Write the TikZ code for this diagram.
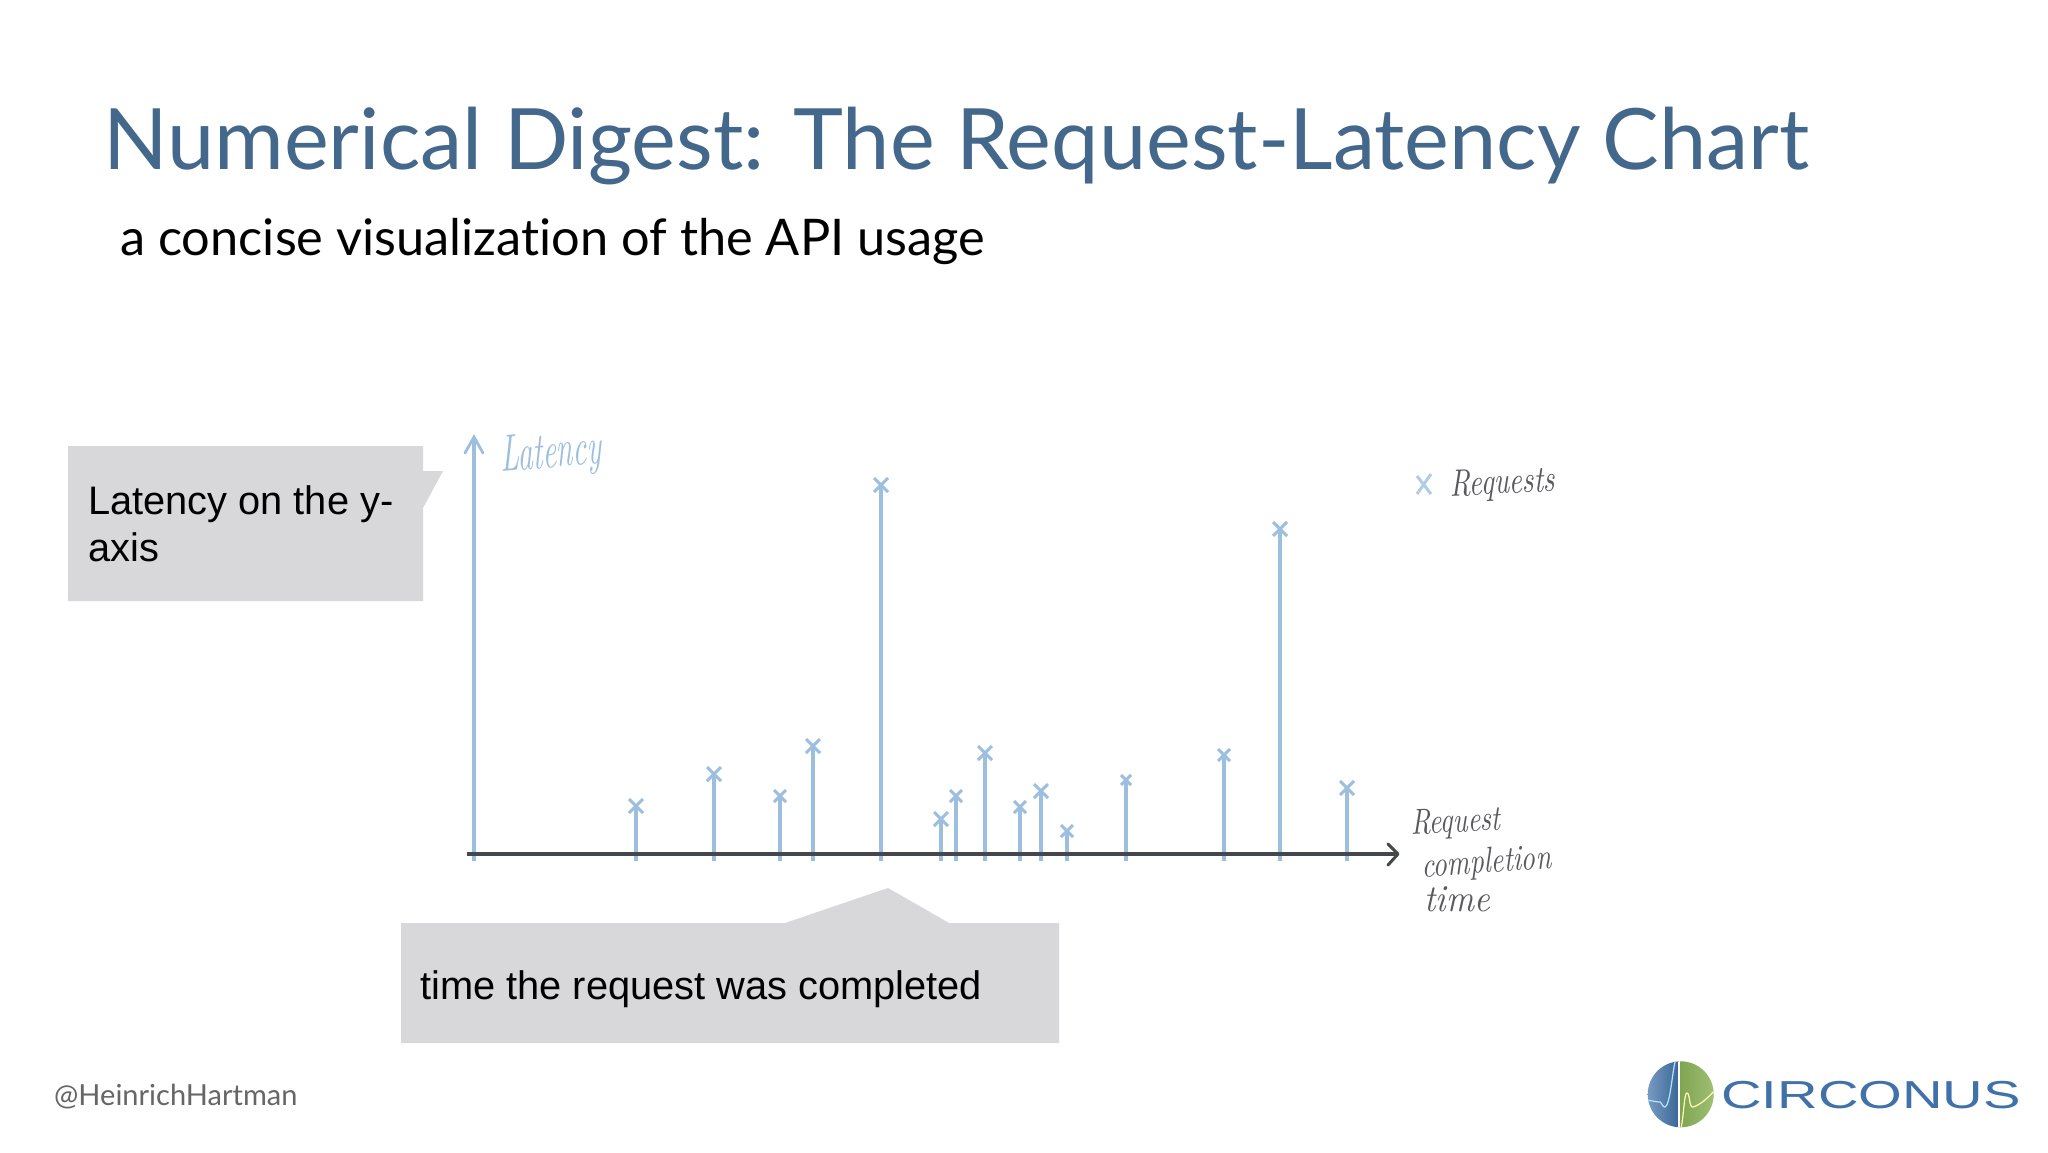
\documentclass[tikz,border=0pt]{standalone}
\usepackage{fontspec}
\setmainfont{Lato}[Ligatures=NoCommon]
\newfontfamily\arialf{Liberation Sans}
\newfontfamily\handf{lmroman10-italic.otf}
\usetikzlibrary{arrows.meta}
\definecolor{titleblue}{HTML}{44688C}
\definecolor{stemblue}{HTML}{9DBFDF}
\definecolor{calloutgray}{HTML}{D8D7DA}
\definecolor{axisdark}{HTML}{44474C}
\definecolor{logoblue}{HTML}{4071A8}
\definecolor{logogreen}{HTML}{8DB65A}
\definecolor{handgray}{HTML}{5A5A5E}
\newcommand{\px}[1]{\fontsize{#1}{#1}\selectfont}
\tikzset{
 x=1pt,y=-1pt,
 stem/.style={draw=stemblue,line width=3.6pt},
 crossmark/.style={draw=stemblue,line width=3pt},
 callout/.style={fill=calloutgray,draw=none},
 calltext/.style={anchor=base west,inner sep=0pt,font=\arialf\px{39.8},text=black},
 hand/.style={anchor=base west,inner sep=0pt,font=\handf\px{38},text=handgray},
}
\begin{document}
\begin{tikzpicture}
\useasboundingbox (0,0) rectangle (2048,1152);
\fill[white] (0,0) rectangle (2048,1152);
\node[anchor=base west,inner sep=0pt,text=titleblue,font=\px{84.7}] (title) at (103,169) {Numerical Digest: The Request-Latency Chart};
\node[anchor=base west,inner sep=0pt,text=black,font=\px{50.5}] (sub) at (120,255) {a concise visualization of the API usage};
% callouts
\path[callout] (68,446) -- (423,446) -- (423,471) -- (443,471) -- (423,508) -- (423,601) -- (68,601) -- cycle;
\path[callout] (401,923) -- (785,923) -- (888,888) -- (949,923) -- (1059,923) -- (1059,1043) -- (401,1043) -- cycle;
\node[calltext] (c1a) at (88,514) {Latency on the y-};
\node[calltext] (c1b) at (88,561) {axis};
\node[calltext] (c2) at (420,999) {time the request was completed};
% stems
\coordinate (ybot) at (474,861);
\coordinate (ytop) at (474,437);
\draw[stem] (ybot) -- (ytop);
\draw[stem,line cap=round,line width=2.8pt] (465,453) -- (ytop) -- (483,453);
\foreach \sx/\sy/\sz in {636/806/7,714/774/7,780/796/6,813/746/7,881/485/7,941/819/7,956/796/6,985/753/7,1020/807/6,1041/791/7,1067/831/6,1126/780/5,1224/755/6,1280/529/7,1347/788/7}{
  \draw[stem] (\sx,861) -- (\sx,\sy);
  \draw[crossmark] (\sx-\sz,\sy-\sz) -- (\sx+\sz,\sy+\sz) (\sx-\sz,\sy+\sz) -- (\sx+\sz,\sy-\sz);
}
% x axis
\coordinate (xl) at (467,854);
\coordinate (xr) at (1398,854);
\draw[draw=axisdark,line width=3.4pt] (xl) -- (xr);
\draw[draw=axisdark,line width=3pt,line cap=round,line join=round] (1388,844) -- (xr) -- (1388,865);
% legend cross
\draw[draw=stemblue!80,line width=3pt] (1417,476) -- (1431,494) (1417,494) -- (1431,474);
% handwriting as text
\node[hand,text=stemblue,xscale=.57,rotate=3,font=\handf\px{52}] (lat) at (501,472) {Latency};
\node[hand,xscale=.75,rotate=2] (req) at (1450,496) {Requests};
\node[hand,xscale=.76,rotate=2,font=\handf\px{36}] (r1) at (1411,834) {Request};
\node[hand,xscale=.77,rotate=3,font=\handf\px{36}] (r2) at (1422,877) {completion};
\node[hand,xscale=.9] (r3) at (1424,911) {time};
% footer
\node[anchor=base west,inner sep=0pt,text=black!60,font=\px{29}] (foot) at (54,1105) {@HeinrichHartman};
% logo
\begin{scope}
\clip (1680.7,1094.3) circle (33);
\shade[left color=logoblue!70!white,right color=logoblue!90!black] (1647,1060) rectangle (1679,1128);
\shade[left color=logogreen!90!black,right color=logogreen!85!white] (1679,1060) rectangle (1715,1128);
\draw[white!70!cyan,line width=1.2pt] (1675,1062) .. controls (1672,1075) and (1670,1105) .. (1665,1107) .. controls (1662,1108) and (1662,1100) .. (1658,1102) -- (1647,1100);
\draw[white,line width=1.6pt] (1679,1060) -- (1679,1128);
\draw[white!70!yellow,line width=1.2pt] (1681,1128) .. controls (1684,1115) and (1684,1093) .. (1687,1093) .. controls (1690,1093) and (1689,1108) .. (1693,1107) .. controls (1700,1105) and (1708,1098) .. (1715,1090);
\end{scope}
\node[anchor=base west,inner sep=0pt,text=logoblue,font=\arialf\px{39},xscale=1.44] (logo) at (1721,1108) {CIRCONUS};
\end{tikzpicture}
\end{document}
